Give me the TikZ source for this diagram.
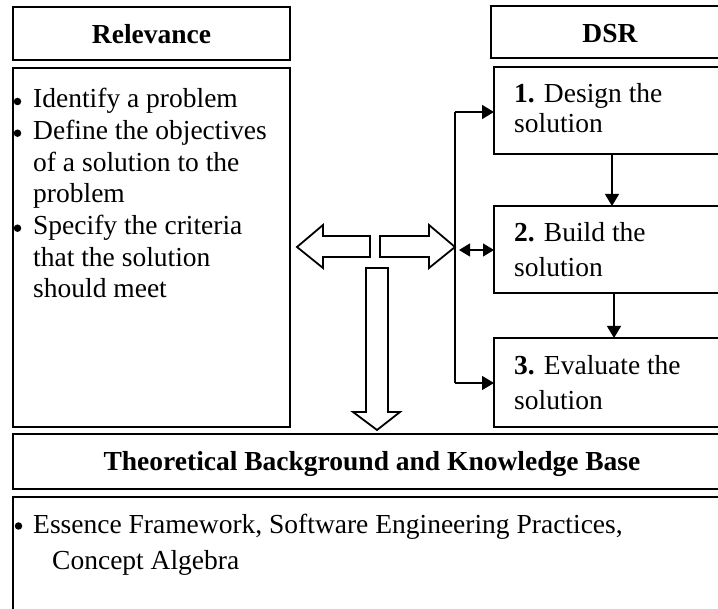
\documentclass[tikz,border=0pt]{standalone}
\usepackage{fontspec}
\setmainfont{Liberation Serif}
\usetikzlibrary{arrows.meta}
\begin{document}
\begin{tikzpicture}[x=1pt,y=-1pt,
  box/.style={draw,line width=2.4pt,inner sep=0pt,outer sep=0pt},
  txt/.style={font=\fontsize{27.5}{31.5}\selectfont,inner sep=0pt,anchor=base west},
  hdr/.style={font=\fontsize{27.5}{31.5}\selectfont\bfseries,inner sep=0pt,anchor=base},
  bul/.style={circle,fill=black,inner sep=0pt,minimum size=7.5pt},
  blk/.style={draw,line width=1.8pt,fill=white,line join=miter},
  arr/.style={line width=1.2pt,-{Triangle[length=12pt,width=14pt]}},
  darr/.style={line width=1.2pt,{Triangle[length=11pt,width=13pt]}-{Triangle[length=11pt,width=13pt]}}]
\useasboundingbox (0,0) rectangle (718,609);
\clip (0,0) rectangle (718,609);
\fill[white] (0,0) rectangle (718,609);
% boxes
\node[box,minimum width=277pt,minimum height=53pt] (relh) at (151.5,33.5) {};
\node[box,minimum width=277pt,minimum height=359pt] (relb) at (151.5,247.5) {};
\node[box,minimum width=238pt,minimum height=52pt] (dsrh) at (610,32) {};
\node[box,minimum width=238pt,minimum height=87pt] (b1) at (613,110.5) {};
\node[box,minimum width=238pt,minimum height=87pt] (b2) at (613,249.5) {};
\node[box,minimum width=238pt,minimum height=89pt] (b3) at (613,382.5) {};
\node[box,minimum width=718pt,minimum height=55pt] (tbh) at (372,461.5) {};
\node[box,minimum width=718pt,minimum height=143pt] (tbb) at (372,568.5) {};
% headers
\node[hdr] (trel) at (151.5,44) {Relevance};
\node[hdr] (tdsr) at (610,43) {DSR};
\node[hdr] (ttb) at (372,471) {Theoretical Background and Knowledge Base};
% relevance text
\node[bul] (bl1) at (17.5,101.5) {};
\node[txt] (l1) at (33,108) {Identify a problem};
\node[bul] (bl2) at (17.5,133.2) {};
\node[txt] (l2) at (33,139.7) {Define the objectives};
\node[txt] (l3) at (33,171.3) {of a solution to the};
\node[txt] (l4) at (33,203) {problem};
\node[bul] (bl5) at (17.5,228.2) {};
\node[txt] (l5) at (33,234.7) {Specify the criteria};
\node[txt] (l6) at (33,266.3) {that the solution};
\node[txt] (l7) at (33,298) {should meet};
% DSR steps text
\node[txt] (s1a) at (514,103) {\textbf{1.} Design the};
\node[txt] (s1b) at (514,133) {solution};
\node[txt] (s2a) at (514,242) {\textbf{2.} Build the};
\node[txt] (s2b) at (514,277) {solution};
\node[txt] (s3a) at (514,375) {\textbf{3.} Evaluate the};
\node[txt] (s3b) at (514,410) {solution};
% knowledge base text
\node[bul] (bk) at (18.5,526) {};
\node[txt] (k1) at (33,533) {Essence Framework, Software Engineering Practices,};
\node[txt] (k2) at (52,569) {Concept Algebra};
% block arrows
\draw[blk] (370,236) -- (323,236) -- (323,225) -- (297,247) -- (323,268) -- (323,257) -- (370,257) -- cycle;
\draw[blk] (380,236) -- (429,236) -- (429,225) -- (455,247) -- (429,268) -- (429,257) -- (380,257) -- cycle;
\draw[blk] (366,268) -- (388,268) -- (388,412) -- (400,412) -- (377,430) -- (353,412) -- (366,412) -- cycle;
% connectors
\coordinate (vt) at (455,112);
\coordinate (vb) at (455,383);
\draw[line width=1.2pt] (vt) -- (vb);
\draw[arr] (vt) -- (vt -| b1.west);
\draw[arr] (vb) -- (vb -| b3.west);
\coordinate (da) at (459,250);
\draw[darr] (da) -- (da -| b2.west);
\draw[arr] (b1.south -| 612,0) -- (b2.north -| 612,0);
\draw[arr] (b2.south -| 614,0) -- (b3.north -| 614,0);
\end{tikzpicture}
\end{document}
